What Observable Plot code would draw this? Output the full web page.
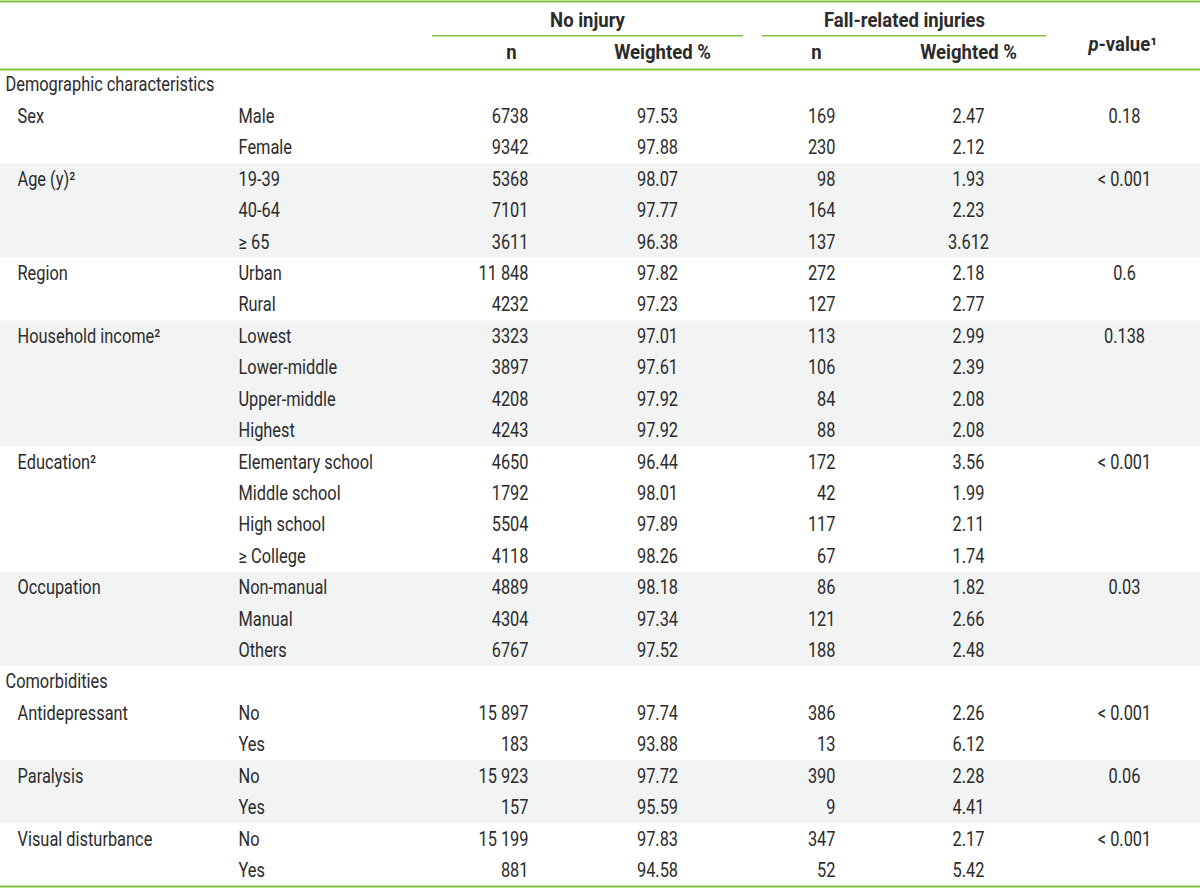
<!DOCTYPE html>
<html>
<head>
<meta charset="utf-8">
<script src="https://cdn.jsdelivr.net/npm/d3@7"></script>
<script src="https://cdn.jsdelivr.net/npm/@observablehq/plot@0.6"></script>
<style>
  html, body { margin: 0; padding: 0; background: #ffffff; }
  #chart svg { display: block; }
</style>
</head>
<body>
<div id="chart"></div>
<script>
// ---------- DATA ----------
const sections = ["Demographic characteristics", "Comorbidities"];
const variables = ["Sex", "Age (y)²", "Region", "Household income²", "Education²", "Occupation",
                   "Antidepressant", "Paralysis", "Visual disturbance"];
const variableSection = [0, 0, 0, 0, 0, 0, 1, 1, 1];
const levels = [
  ["Male", "Female"],
  ["19-39", "40-64", "≥ 65"],
  ["Urban", "Rural"],
  ["Lowest", "Lower-middle", "Upper-middle", "Highest"],
  ["Elementary school", "Middle school", "High school", "≥ College"],
  ["Non-manual", "Manual", "Others"],
  ["No", "Yes"],
  ["No", "Yes"],
  ["No", "Yes"]
];
const nNoInjury = [
  [6738, 9342], [5368, 7101, 3611], [11848, 4232], [3323, 3897, 4208, 4243],
  [4650, 1792, 5504, 4118], [4889, 4304, 6767], [15897, 183], [15923, 157], [15199, 881]
];
const pctNoInjury = [
  ["97.53", "97.88"], ["98.07", "97.77", "96.38"], ["97.82", "97.23"],
  ["97.01", "97.61", "97.92", "97.92"], ["96.44", "98.01", "97.89", "98.26"],
  ["98.18", "97.34", "97.52"], ["97.74", "93.88"], ["97.72", "95.59"], ["97.83", "94.58"]
];
const nFall = [
  [169, 230], [98, 164, 137], [272, 127], [113, 106, 84, 88],
  [172, 42, 117, 67], [86, 121, 188], [386, 13], [390, 9], [347, 52]
];
const pctFall = [
  ["2.47", "2.12"], ["1.93", "2.23", "3.612"], ["2.18", "2.77"],
  ["2.99", "2.39", "2.08", "2.08"], ["3.56", "1.99", "2.11", "1.74"],
  ["1.82", "2.66", "2.48"], ["2.26", "6.12"], ["2.28", "4.41"], ["2.17", "5.42"]
];
const pValues = ["0.18", "< 0.001", "0.6", "0.138", "< 0.001", "0.03", "< 0.001", "0.06", "< 0.001"];
const groupHeaders = ["No injury", "Fall-related injuries"];
const subHeaders = ["n", "Weighted %", "n", "Weighted %"];

// ---------- LAYOUT (positions / styles) ----------
const W = 1200, H = 888;
const L = {
  section: 5, variable: 17, level: 238,
  nNo: 528, pctNo: 657, nFall: 835, pctFall: 968, p: 1124,
  groupCenters: [587, 904], groupLines: [[432, 743], [762, 1046]],
  subCenters: [511, 662, 816, 968], pSplit: 1098
};
const HDR = { top: -2.164, group: -1.55, groupLine: -1.075, sub: -0.52, pval: -0.8, rule: 0 };
const ROWPX = 817 / 26, TOPPX = 69;
const FS = 19.5, SCALE_X = 0.84, SCALE_X_BOLD = 0.95;
const INK = "#2b2b2b", GREEN = "#84c341", BAND = "#f2f4f4";
const FONT = "Roboto, 'Liberation Sans', sans-serif";

// ---------- BUILD TABLE ----------
const fmtN = n => n >= 10000 ? d3.format(",")(n).replace(/,/g, " ") : String(n);
const rows = [];
const bands = [];
let r = 0;
sections.forEach((s, si) => {
  rows.push({ row: r, kind: "section", label: s });
  r++;
  let k = 0;
  variables.forEach((v, vi) => {
    if (variableSection[vi] !== si) return;
    const start = r;
    levels[vi].forEach((lv, li) => {
      rows.push({
        row: r, kind: "level",
        variable: li === 0 ? v : "",
        level: lv,
        nNo: fmtN(nNoInjury[vi][li]),
        pctNo: pctNoInjury[vi][li],
        nFall: fmtN(nFall[vi][li]),
        pctFall: pctFall[vi][li],
        p: li === 0 ? pValues[vi] : ""
      });
      r++;
    });
    if (k % 2 === 1) bands.push({ y1: start, y2: r });
    k++;
  });
});
const nRows = r;
const levelRows = rows.filter(d => d.kind === "level");
const sectionRows = rows.filter(d => d.kind === "section");

const yTop = -TOPPX / ROWPX;
const yBottom = yTop + H / ROWPX;

const txt = (data, opts) => Plot.text(data, { fontSize: FS, fill: INK, lineAnchor: "middle", ...opts });

const chart = Plot.plot({
  width: W, height: H, margin: 0,
  x: { domain: [0, W], range: [0, W], axis: null },
  y: { domain: [yTop, yBottom], range: [0, H], axis: null },
  style: { fontFamily: FONT, background: "#ffffff", overflow: "visible" },
  marks: [
    Plot.rect(bands, { x1: 0, x2: W, y1: "y1", y2: "y2", fill: BAND }),
    // green rules
    Plot.ruleY([HDR.top, HDR.rule, nRows], { x1: 0, x2: W, stroke: GREEN, strokeWidth: 2 }),
    Plot.ruleY(L.groupLines, { y: HDR.groupLine, x1: d => d[0], x2: d => d[1], stroke: GREEN, strokeWidth: 1.6 }),
    // headers
    txt(groupHeaders, { x: (d, i) => L.groupCenters[i], y: HDR.group, text: d => d, fontWeight: "bold", textAnchor: "middle" }),
    txt(subHeaders, { x: (d, i) => L.subCenters[i], y: HDR.sub, text: d => d, fontWeight: "bold", textAnchor: "middle" }),
    txt(["p"], { x: L.pSplit, y: HDR.pval, text: d => d, fontWeight: "bold", fontStyle: "italic", textAnchor: "end" }),
    txt(["-value¹"], { x: L.pSplit, y: HDR.pval, text: d => d, fontWeight: "bold", textAnchor: "start" }),
    // body
    txt(sectionRows, { x: L.section, y: d => d.row + 0.5, text: "label", textAnchor: "start" }),
    txt(levelRows, { x: L.variable, y: d => d.row + 0.5, text: "variable", textAnchor: "start" }),
    txt(levelRows, { x: L.level, y: d => d.row + 0.5, text: "level", textAnchor: "start" }),
    txt(levelRows, { x: L.nNo, y: d => d.row + 0.5, text: "nNo", textAnchor: "end" }),
    txt(levelRows, { x: L.pctNo, y: d => d.row + 0.5, text: "pctNo", textAnchor: "middle" }),
    txt(levelRows, { x: L.nFall, y: d => d.row + 0.5, text: "nFall", textAnchor: "end" }),
    txt(levelRows, { x: L.pctFall, y: d => d.row + 0.5, text: "pctFall", textAnchor: "middle" }),
    txt(levelRows, { x: L.p, y: d => d.row + 0.5, text: "p", textAnchor: "middle" })
  ]
});

// condensed look: narrow each text horizontally around its own anchor
d3.select(chart).selectAll("text").each(function () {
  const bold = !!this.closest('[font-weight="bold"]');
  const s = bold ? SCALE_X_BOLD : SCALE_X;
  const t = this.getAttribute("transform");
  if (t) {
    this.setAttribute("transform", t + ` scale(${s},1)`);
  } else {
    const x = +this.getAttribute("x") || 0;
    this.setAttribute("transform", `translate(${x},0) scale(${s},1) translate(${-x},0)`);
  }
});
document.getElementById("chart").appendChild(chart);
</script>
</body>
</html>
